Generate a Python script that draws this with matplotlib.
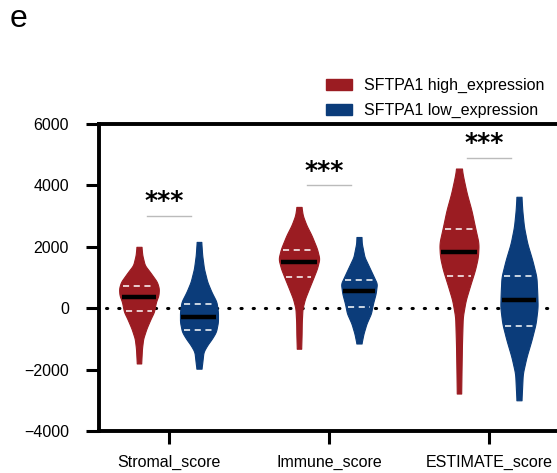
import numpy as np
import matplotlib.pyplot as plt
from matplotlib.patches import Patch

plt.rcParams['font.family'] = ['Liberation Sans', 'DejaVu Sans']

# score groups and the two SFTPA1 expression groups
groups = ['Stromal_score', 'Immune_score', 'ESTIMATE_score']
labels = ['SFTPA1 high_expression', 'SFTPA1 low_expression']
colors = ['#9b1c22', '#0b3c7a']

# violin outlines: score level -> density (relative width)
high_y = [
    [2000, 1730, 1400, 1180, 860, 640, 420, 210, -120, -340, -660, -990, -1310, -1800],
    [3300, 3020, 2700, 2380, 1940, 1610, 1290, 960, 640, 310, -10, -450, -880, -1320],
    [4550, 4280, 3740, 3190, 2650, 2110, 1670, 1240, 800, 260, -280, -1150, -1910, -2780],
]
high_d = [
    [2.5, 3.3, 5.8, 11, 18, 20, 19.5, 17, 15, 11.7, 7.5, 4.2, 3, 2.2],
    [2.5, 3.8, 7.5, 12.5, 18, 20.5, 18, 14, 10, 6, 3.5, 2.8, 2.6, 2.2],
    [2.8, 4.2, 7.8, 12.5, 16, 19.7, 19, 16, 11.7, 6.7, 3.8, 3, 2.6, 2.2],
]
low_y = [
    [2160, 1730, 1290, 860, 530, 210, -120, -450, -770, -990, -1200, -1420, -1800, -1970],
    [2320, 2110, 1670, 1240, 800, 480, 150, -170, -500, -830, -1150],
    [3630, 3190, 2650, 2110, 1570, 1020, 480, 40, -500, -1040, -1590, -2130, -2670, -3000],
]
low_d = [
    [2.3, 3.2, 5, 8.3, 12.5, 17.5, 19, 19, 17, 13, 8.3, 4.5, 3.2, 2.5],
    [2.5, 2.8, 5.5, 11.7, 18, 16.7, 14, 12, 7.5, 4.5, 2.5],
    [2.5, 3.3, 5, 8.3, 13.3, 17.5, 18.3, 18.7, 16.7, 12.5, 7.5, 3.8, 3, 2.5],
]

# median and quartiles
high_med = [350, 1500, 1840]
high_q1 = [-100, 1020, 1060]
high_q3 = [730, 1910, 2590]
low_med = [-300, 560, 260]
low_q1 = [-720, 40, -580]
low_q3 = [150, 930, 1050]

# significance bars
sig_y = [3000, 4000, 4900]
sig_text = ['***', '***', '***']

fig = plt.figure(figsize=(5.57, 4.73), dpi=100)
ax = fig.add_axes([0.1777, 0.0888, 0.8438, 0.649])

scale = 0.125 / 20  # density -> x data units
offset = 0.1875
x = np.arange(1, len(groups) + 1)


def draw_violin(pos, ys, ds, med, q1, q3, color):
    ys = np.asarray(ys, float)[::-1]
    ds = np.asarray(ds, float)[::-1]
    yy = np.linspace(ys[0], ys[-1], 200)
    dd = np.interp(yy, ys, ds)
    # light smoothing of the outline
    k = np.ones(9) / 9
    dd = np.convolve(np.pad(dd, 4, mode='edge'), k, mode='valid')
    ax.fill_betweenx(yy, pos - dd * scale, pos + dd * scale, color=color, lw=0.8, ec=color, zorder=2)
    w = np.interp(med, ys, ds) * scale * 0.92
    ax.plot([pos - w, pos + w], [med, med], color='black', lw=3.2, solid_capstyle='butt', zorder=4)
    for q in (q1, q3):
        w = np.interp(q, ys, ds) * scale * 0.85
        ax.plot([pos - w, pos + w], [q, q], color='white', lw=1.1, ls=(0, (4, 3)), zorder=4)


for i in range(len(groups)):
    draw_violin(x[i] - offset, high_y[i], high_d[i], high_med[i], high_q1[i], high_q3[i], colors[0])
    draw_violin(x[i] + offset, low_y[i], low_d[i], low_med[i], low_q1[i], low_q3[i], colors[1])
    ax.plot([x[i] - 0.14, x[i] + 0.14], [sig_y[i], sig_y[i]], color='#bbbbbb', lw=1, zorder=3)
    ax.annotate(sig_text[i], xy=(x[i] - 0.03, sig_y[i]), xytext=(0, 5.5), textcoords='offset points',
                ha='center', va='baseline', fontsize=18, fontweight='bold', family='DejaVu Sans')

ax.axhline(0, xmin=0.015, color='black', lw=2.2, ls=(0, (0.4, 3.6)), dash_capstyle='round', zorder=1)

ax.set_xlim(0.5625, 3.5)
ax.set_ylim(-4000, 6000)
ax.set_yticks(np.arange(-4000, 6001, 2000))
ax.set_xticks(x)
ax.set_xticklabels(groups)
for s in ax.spines.values():
    s.set_linewidth(2.8)
ax.tick_params(axis='y', length=9.5, width=2.2, pad=12, labelsize=11.5)
ax.tick_params(axis='x', length=9, width=2.2, pad=8, labelsize=11.5)

handles = [Patch(facecolor=c, edgecolor=c) for c in colors]
fig.legend(handles, labels, loc='upper left', bbox_to_anchor=(326 / 557, 1 - 78 / 473), frameon=False,
           fontsize=11.5, handlelength=1.6, handleheight=0.7, handletextpad=0.8, labelspacing=0.62,
           borderpad=0, borderaxespad=0)

fig.text(10 / 557, 1 - 27 / 473, 'e', fontsize=23, va='baseline')

fig.savefig('out.png', dpi=100)
